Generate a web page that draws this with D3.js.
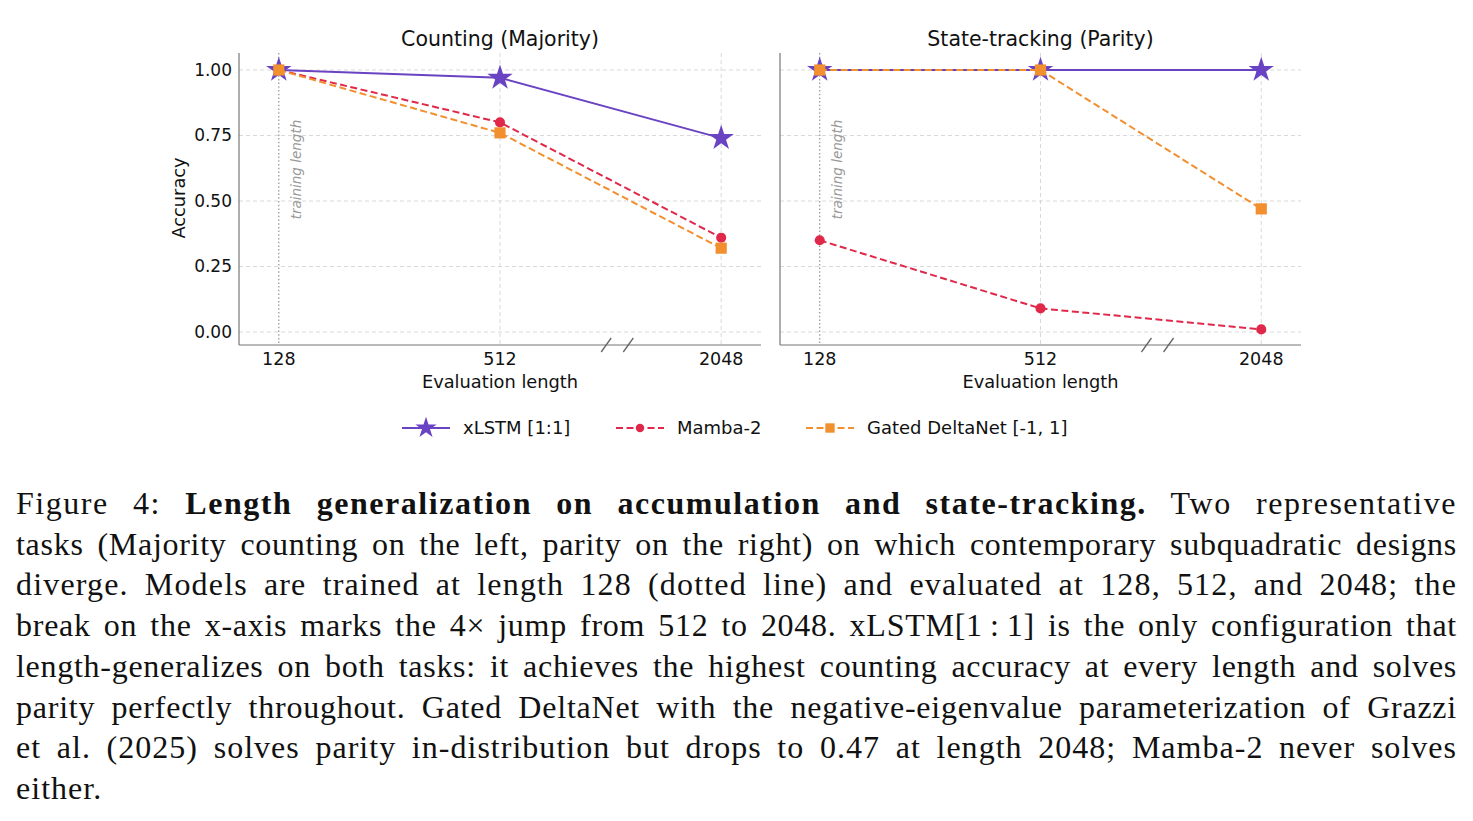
<!DOCTYPE html>
<html>
<head>
<meta charset="utf-8">
<script src="https://cdn.jsdelivr.net/npm/d3@7"></script>
<style>
  html, body { margin: 0; padding: 0; background: #fff; }
  #fig { width: 1473px; height: 821px; }
</style>
</head>
<body>
<div id="fig"></div>
<script>
// data
const lengths = ["128", "512", "2048"];
const yTicks = [0, 0.25, 0.5, 0.75, 1.0];
const seriesNames = ["xLSTM [1:1]", "Mamba-2", "Gated DeltaNet [-1, 1]"];

const countingXlstm = [1.0, 0.97, 0.74];
const countingMamba = [1.0, 0.80, 0.36];
const countingGated = [1.0, 0.76, 0.32];

const parityXlstm = [1.0, 1.0, 1.0];
const parityMamba = [0.35, 0.09, 0.01];
const parityGated = [1.0, 1.0, 0.47];

const captionLines = [
  [["Figure 4: ", false], ["Length generalization on accumulation and state-tracking.", true], [" Two representative", false]],
  [["tasks (Majority counting on the left, parity on the right) on which contemporary subquadratic designs", false]],
  [["diverge. Models are trained at length 128 (dotted line) and evaluated at 128, 512, and 2048; the", false]],
  [["break on the x-axis marks the 4\u00d7 jump from 512 to 2048. xLSTM[1\u2009:\u20091] is the only configuration that", false]],
  [["length-generalizes on both tasks: it achieves the highest counting accuracy at every length and solves", false]],
  [["parity perfectly throughout. Gated DeltaNet with the negative-eigenvalue parameterization of Grazzi", false]],
  [["et al. (2025) solves parity in-distribution but drops to 0.47 at length 2048; Mamba-2 never solves", false]],
  [["either.", false]]
];

const colors = ["#6a43c3", "#e0284a", "#f28f2e"];
const markers = [d3.symbolStar, d3.symbolCircle, d3.symbolSquare];
const markerSizes = [200, 80, 125];
const dashes = [null, "7,3.5", "7,3.5"];

const width = 1473, height = 821;
const svg = d3.select("#fig").append("svg")
  .attr("width", width)
  .attr("height", height)
  .style("font-family", "'DejaVu Sans', sans-serif");

// shared y scale (both panels same height)
const y = d3.scaleLinear().domain([0, 1]).range([332, 70]);
const axisTop = 53, axisBottom = 345;

function drawPanel(left, right, title, series, showY) {
  const x = d3.scaleLinear().domain([-0.18, 2.18]).range([left, right]);
  const g = svg.append("g");

  // grid
  g.selectAll(".hgrid").data(yTicks).enter().append("line")
    .attr("x1", left).attr("x2", right)
    .attr("y1", d => y(d)).attr("y2", d => y(d))
    .attr("stroke", "#cfcfcf").attr("stroke-width", 0.8)
    .attr("stroke-dasharray", "4,3");
  g.selectAll(".vgrid").data(lengths.slice(1)).enter().append("line")
    .attr("x1", (d, i) => x(i + 1)).attr("x2", (d, i) => x(i + 1))
    .attr("y1", axisTop).attr("y2", axisBottom)
    .attr("stroke", "#cfcfcf").attr("stroke-width", 0.8)
    .attr("stroke-dasharray", "4,3");

  // training length marker
  g.append("line")
    .attr("x1", x(0)).attr("x2", x(0))
    .attr("y1", axisTop).attr("y2", axisBottom)
    .attr("stroke", "#8a8a8a").attr("stroke-width", 1.1)
    .attr("stroke-dasharray", "1.5,2.2");
  g.append("text")
    .attr("transform", `translate(${x(0) + 22},${y(0.62)}) rotate(-90)`)
    .attr("font-size", 13.5).attr("font-style", "italic")
    .attr("fill", "#999").attr("text-anchor", "middle")
    .text("training length");

  // spines
  g.append("line").attr("x1", left).attr("x2", left)
    .attr("y1", axisTop).attr("y2", axisBottom)
    .attr("stroke", "#777").attr("stroke-width", 1.2);
  g.append("line").attr("x1", left).attr("x2", right)
    .attr("y1", axisBottom).attr("y2", axisBottom)
    .attr("stroke", "#777").attr("stroke-width", 1.2);

  // axis break marks between 512 and 2048
  [1.48, 1.58].forEach(p => {
    g.append("line")
      .attr("x1", x(p) - 5).attr("y1", axisBottom + 7)
      .attr("x2", x(p) + 5).attr("y2", axisBottom - 7)
      .attr("stroke", "#666").attr("stroke-width", 1.3);
  });

  // x tick labels
  g.selectAll(".xt").data(lengths).enter().append("text")
    .attr("x", (d, i) => x(i)).attr("y", axisBottom + 20)
    .attr("text-anchor", "middle").attr("font-size", 17.5)
    .attr("fill", "#111").text(d => d);
  g.append("text")
    .attr("x", (left + right) / 2).attr("y", 388)
    .attr("text-anchor", "middle").attr("font-size", 17.8)
    .attr("fill", "#111").text("Evaluation length");

  if (showY) {
    g.selectAll(".yt").data(yTicks).enter().append("text")
      .attr("x", left - 7).attr("y", d => y(d)).attr("dy", "0.35em")
      .attr("text-anchor", "end").attr("font-size", 17)
      .attr("fill", "#111").text(d => d.toFixed(2));
    g.append("text")
      .attr("transform", `translate(185,${(axisTop + axisBottom) / 2 - 1}) rotate(-90)`)
      .attr("text-anchor", "middle").attr("font-size", 17.8)
      .attr("fill", "#111").text("Accuracy");
  }

  g.append("text")
    .attr("x", (left + right) / 2).attr("y", 46)
    .attr("text-anchor", "middle").attr("font-size", 20.5)
    .attr("fill", "#111").text(title);

  const line = d3.line().x((d, i) => x(i)).y(d => y(d));
  series.forEach((vals, k) => {
    g.append("path").datum(vals)
      .attr("d", line)
      .attr("fill", "none")
      .attr("stroke", colors[k]).attr("stroke-width", 2)
      .attr("stroke-dasharray", dashes[k]);
    g.selectAll(null).data(vals).enter().append("path")
      .attr("transform", (d, i) => `translate(${x(i)},${y(d)})`)
      .attr("d", d3.symbol(markers[k], markerSizes[k]))
      .attr("fill", colors[k]);
  });
}

drawPanel(239, 761, "Counting (Majority)", [countingXlstm, countingMamba, countingGated], true);
drawPanel(780, 1301, "State-tracking (Parity)", [parityXlstm, parityMamba, parityGated], false);

// legend
const legendX = [402, 616, 806];
const legend = svg.append("g");
seriesNames.forEach((name, k) => {
  const lx = legendX[k], ly = 428;
  legend.append("line")
    .attr("x1", lx).attr("x2", lx + 48).attr("y1", ly).attr("y2", ly)
    .attr("stroke", colors[k]).attr("stroke-width", 2)
    .attr("stroke-dasharray", dashes[k]);
  legend.append("path")
    .attr("transform", `translate(${lx + 24},${ly})`)
    .attr("d", d3.symbol(markers[k], markerSizes[k] * 0.7))
    .attr("fill", colors[k]);
  legend.append("text")
    .attr("x", lx + 61).attr("y", ly).attr("dy", "0.35em")
    .attr("font-size", 18).attr("fill", "#111").text(name);
});

// caption, justified with a mix of letter and word spacing
const capLeft = 16, capRight = 1457;
let lastLetter = 0;
captionLines.forEach((parts, i) => {
  const t = svg.append("text")
    .attr("x", capLeft).attr("y", 514 + i * 40.7)
    .attr("font-family", "'Liberation Serif', 'Times New Roman', serif")
    .attr("font-size", 32).attr("fill", "#111");
  parts.forEach(([s, bold]) => {
    t.append("tspan").attr("font-weight", bold ? "bold" : "normal").text(s);
  });
  const full = parts.map(p => p[0]).join("");
  if (i < captionLines.length - 1) {
    const spaces = (full.match(/ /g) || []).length;
    const natural = t.node().getComputedTextLength();
    const extra = Math.max(0, capRight - capLeft - natural);
    const ls = extra * 0.5 / full.length;
    lastLetter = ls;
    t.attr("letter-spacing", ls);
    const stretched = t.node().getComputedTextLength();
    t.attr("word-spacing", (capRight - capLeft - stretched) / spaces);
  } else {
    t.attr("letter-spacing", lastLetter);
  }
});
</script>
</body>
</html>
